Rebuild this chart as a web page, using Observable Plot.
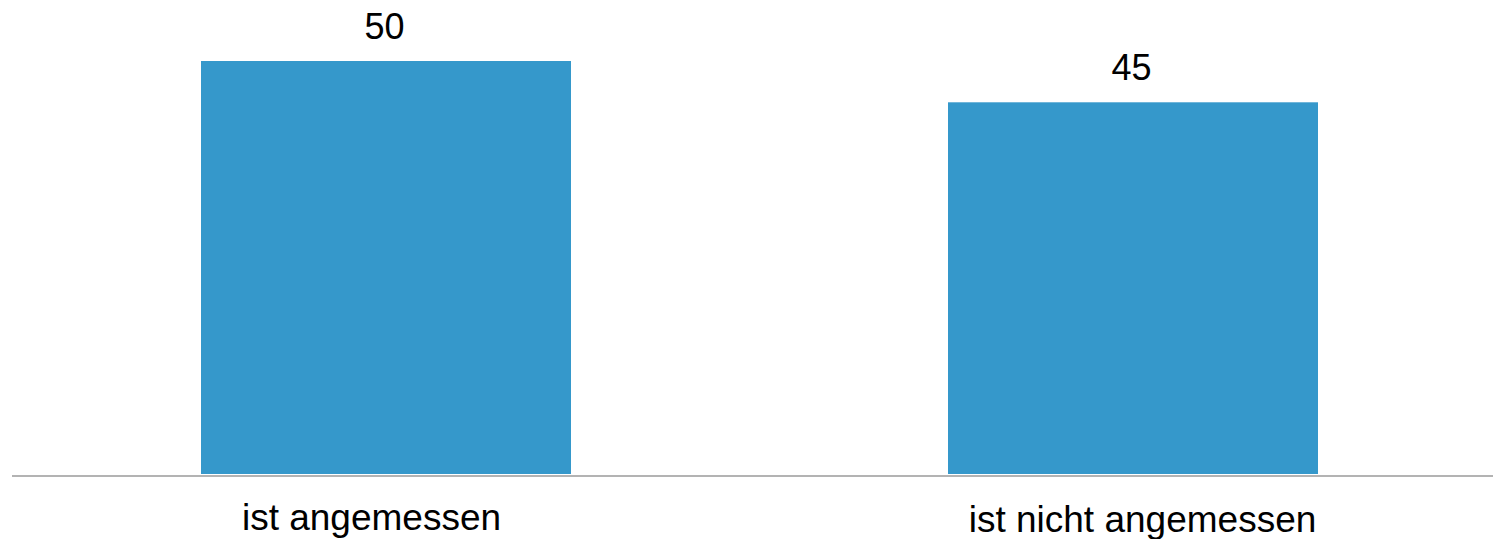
<!DOCTYPE html>
<html>
<head>
<meta charset="utf-8">
<script src="https://cdn.jsdelivr.net/npm/d3@7"></script>
<script src="https://cdn.jsdelivr.net/npm/@observablehq/plot@0.6"></script>
<style>
  html, body { margin: 0; padding: 0; background: #fff; }
  #chart svg { display: block; }
</style>
</head>
<body>
<div id="chart"></div>
<script>
const categories = ["ist angemessen", "ist nicht angemessen"];
const values = [50, 45];

const data = categories.map((c, i) => ({category: c, value: values[i]}));

const chart = Plot.plot({
  width: 1493,
  height: 539,
  marginTop: 61,
  marginBottom: 65,
  marginLeft: 12,
  marginRight: 0,
  style: {fontFamily: "Liberation Sans, Arial, sans-serif", background: "#fff"},
  x: {domain: categories, paddingInner: 0.505, paddingOuter: 0.243, align: 0.52, label: null},
  y: {domain: [0, 50], axis: null},
  marks: [
    Plot.barY(data, {x: "category", y: "value", fill: "#3598cb"}),
    Plot.ruleY([0], {stroke: "#b3b3b3", strokeWidth: 2, dy: 1.5}),
    Plot.text(data, {x: "category", y: "value", text: d => String(d.value), dy: -23, dx: -2, fontSize: 36, fill: "#000", lineAnchor: "bottom"}),
    Plot.axisX([categories[0]], {tickSize: 0, tickPadding: 29, dx: -15, fontSize: 37, fill: "#000", label: null}),
    Plot.axisX([categories[1]], {tickSize: 0, tickPadding: 31, dx: 9, fontSize: 37, fill: "#000", label: null})
  ]
});
document.getElementById("chart").appendChild(chart);
</script>
</body>
</html>
